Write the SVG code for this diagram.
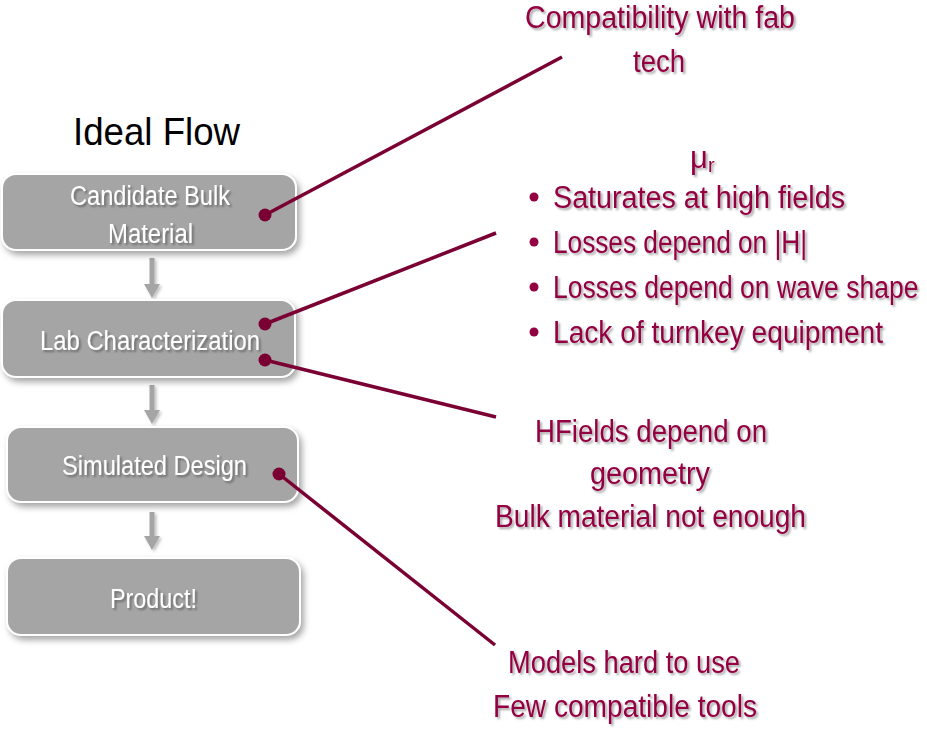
<svg xmlns="http://www.w3.org/2000/svg" width="927" height="731" viewBox="0 0 927 731">
  <defs>
    <filter id="boxShadow" x="-10%" y="-20%" width="130%" height="160%">
      <feDropShadow dx="3" dy="4" stdDeviation="3" flood-color="#000" flood-opacity="0.35"/>
    </filter>
    <filter id="textShadow" x="-5%" y="-20%" width="115%" height="160%">
      <feDropShadow dx="2" dy="2" stdDeviation="1.2" flood-color="#000" flood-opacity="0.35"/>
    </filter>
    <filter id="arrowShadow" x="-100%" y="-20%" width="300%" height="160%">
      <feDropShadow dx="2" dy="2" stdDeviation="1.5" flood-color="#000" flood-opacity="0.25"/>
    </filter>
  </defs>
  <style>
    .box { fill: #a5a5a5; stroke: #ffffff; stroke-width: 2; filter: url(#boxShadow); }
    .boxText { font-family: "Liberation Sans", Arial, sans-serif; font-size: 27px; fill: #ffffff; filter: url(#textShadow); }
    .title { font-family: "Liberation Sans", Arial, sans-serif; font-size: 39px; fill: #000000; }
    .note { font-family: "Liberation Sans", Arial, sans-serif; font-size: 31px; fill: #930042; filter: url(#textShadow); }
    .flow { fill: #a5a5a5; filter: url(#arrowShadow); }
    .link { stroke: #7a0034; stroke-width: 3.5; fill: none; }
    .dot { fill: #7a0034; }
    .bullet { fill: #930042; }
  </style>

  <rect width="927" height="731" fill="#ffffff"/>

  <text class="title" x="73" y="145" textLength="167" lengthAdjust="spacingAndGlyphs">Ideal Flow</text>

  <!-- flow arrows between stages: shaft + head -->
  <g id="flow-arrows">
    <path class="flow" d="M149.5 258 H154.5 V284 H160 L152 298 L144 284 H149.5 Z"/>
    <path class="flow" d="M149.5 385 H154.5 V410 H160 L152 424 L144 410 H149.5 Z"/>
    <path class="flow" d="M149.5 512 H154.5 V536 H160 L152 550 L144 536 H149.5 Z"/>
  </g>

  <g id="stage-candidate">
    <rect class="box" x="2" y="174" width="294" height="76" rx="14"/>
    <text class="boxText" x="70" y="205" textLength="160" lengthAdjust="spacingAndGlyphs">Candidate Bulk</text>
    <text class="boxText" x="108" y="243" textLength="85" lengthAdjust="spacingAndGlyphs">Material</text>
  </g>

  <g id="stage-lab">
    <rect class="box" x="2" y="300" width="293" height="77" rx="14"/>
    <text class="boxText" x="40" y="350" textLength="220" lengthAdjust="spacingAndGlyphs">Lab Characterization</text>
  </g>

  <g id="stage-simulated">
    <rect class="box" x="7" y="427" width="291" height="75" rx="14"/>
    <text class="boxText" x="62" y="475" textLength="185" lengthAdjust="spacingAndGlyphs">Simulated Design</text>
  </g>

  <g id="stage-product">
    <rect class="box" x="7" y="558" width="293" height="77" rx="14"/>
    <text class="boxText" x="110" y="608" textLength="87" lengthAdjust="spacingAndGlyphs">Product!</text>
  </g>

  <!-- callout connectors -->
  <g id="connectors">
    <line class="link" x1="265" y1="215" x2="562" y2="57"/>
    <circle class="dot" cx="265" cy="215" r="6.5"/>
    <line class="link" x1="265" y1="324" x2="496" y2="233"/>
    <circle class="dot" cx="265" cy="324" r="6.5"/>
    <line class="link" x1="265" y1="360" x2="496" y2="417"/>
    <circle class="dot" cx="265" cy="360" r="6.5"/>
    <line class="link" x1="279" y1="474" x2="495" y2="645"/>
    <circle class="dot" cx="279" cy="474" r="6.5"/>
  </g>

  <g id="note-fab">
    <text class="note" x="525" y="28" textLength="270" lengthAdjust="spacingAndGlyphs">Compatibility with fab</text>
    <text class="note" x="633" y="72" textLength="52" lengthAdjust="spacingAndGlyphs">tech</text>
  </g>

  <g id="note-mu">
    <text class="note" x="690" y="168">μ<tspan font-size="20" dy="4">r</tspan></text>
    <circle class="bullet" cx="534" cy="197" r="4.5"/>
    <text class="note" x="553" y="208" textLength="292" lengthAdjust="spacingAndGlyphs">Saturates at high fields</text>
    <circle class="bullet" cx="534" cy="242" r="4.5"/>
    <text class="note" x="553" y="253" textLength="254" lengthAdjust="spacingAndGlyphs">Losses depend on |H|</text>
    <circle class="bullet" cx="534" cy="287" r="4.5"/>
    <!-- condensed horizontally so the long line stays inside the canvas -->
    <text class="note" transform="translate(553 298) scale(0.87 1)" x="0" y="0" textLength="420" lengthAdjust="spacingAndGlyphs">Losses depend on wave shape</text>
    <circle class="bullet" cx="534" cy="332" r="4.5"/>
    <text class="note" x="553" y="343" textLength="330" lengthAdjust="spacingAndGlyphs">Lack of turnkey equipment</text>
  </g>

  <g id="note-fields">
    <text class="note" x="535" y="442" textLength="232" lengthAdjust="spacingAndGlyphs">HFields depend on</text>
    <text class="note" x="590" y="484" textLength="120" lengthAdjust="spacingAndGlyphs">geometry</text>
    <text class="note" x="495" y="527" textLength="311" lengthAdjust="spacingAndGlyphs">Bulk material not enough</text>
  </g>

  <g id="note-models">
    <text class="note" x="508" y="673" textLength="232" lengthAdjust="spacingAndGlyphs">Models hard to use</text>
    <text class="note" x="493" y="717" textLength="264" lengthAdjust="spacingAndGlyphs">Few compatible tools</text>
  </g>
</svg>
